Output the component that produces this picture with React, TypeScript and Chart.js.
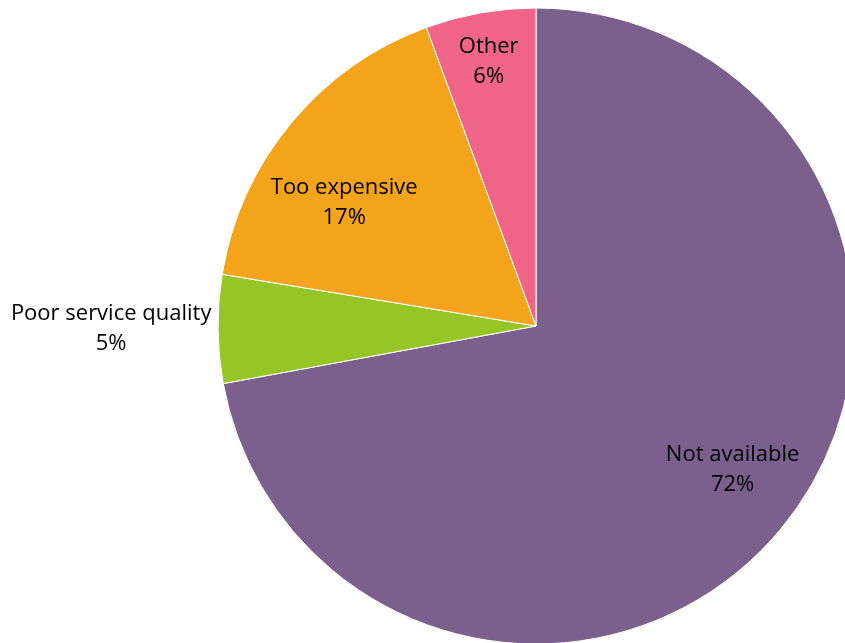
import React, { useEffect, useRef } from "react";
import { Chart, registerables } from "chart.js";

Chart.register(...registerables);

const categories = ["Not available", "Poor service quality", "Too expensive", "Other"];
const shares = [72.1, 5.5, 16.8, 5.6];
const percentLabels = ["72%", "5%", "17%", "6%"];
const colors = ["#7B5F8D", "#95C626", "#F4A41A", "#EF6487"];

// label placement: [radius factor, angle shift in degrees]
const labelPlacement: [number, number][] = [
  [0.762, -4],
  [1.336, 0.5],
  [0.72, -6.5],
  [0.85, 0],
];

const FONT = "22px 'Open Sans'";

const labelPlugin = {
  id: "sliceLabels",
  afterDatasetsDraw(chart: any) {
    const ctx = chart.ctx;
    const meta = chart.getDatasetMeta(0);
    ctx.save();
    ctx.font = FONT;
    ctx.fillStyle = "#000000";
    ctx.textAlign = "center";
    ctx.textBaseline = "middle";
    meta.data.forEach((arc: any, i: number) => {
      const { x, y, startAngle, endAngle, outerRadius } = arc.getProps(
        ["x", "y", "startAngle", "endAngle", "outerRadius"],
        true
      );
      const [f, shift] = labelPlacement[i];
      const mid = (startAngle + endAngle) / 2 + (shift * Math.PI) / 180;
      const cx = x + Math.cos(mid) * outerRadius * f;
      const cy = y + Math.sin(mid) * outerRadius * f;
      ctx.fillText(categories[i], cx, cy - 13);
      ctx.fillText(percentLabels[i], cx, cy + 17);
    });
    ctx.restore();
  },
};

export default function App() {
  const ref = useRef<HTMLCanvasElement>(null);
  useEffect(() => {
    if (!ref.current) return;
    const chart = new Chart(ref.current, {
      type: "pie",
      data: {
        labels: categories,
        datasets: [
          {
            data: shares,
            backgroundColor: colors,
            borderColor: "#ffffff",
            borderWidth: 1,
          },
        ],
      },
      options: {
        responsive: false,
        animation: false,
        radius: 318,
        layout: { padding: 0 },
        plugins: {
          legend: { display: false },
          tooltip: { enabled: false },
        },
      },
      plugins: [labelPlugin],
    });
    return () => chart.destroy();
  }, []);

  return (
    <div
      style={{
        position: "absolute",
        left: 0,
        top: 0,
        width: 845,
        height: 643,
        overflow: "hidden",
        background: "#ffffff",
      }}
    >
      <canvas
        ref={ref}
        width={1072}
        height={652}
        style={{ position: "absolute", left: 0, top: 0, width: 1072, height: 652 }}
      />
    </div>
  );
}
